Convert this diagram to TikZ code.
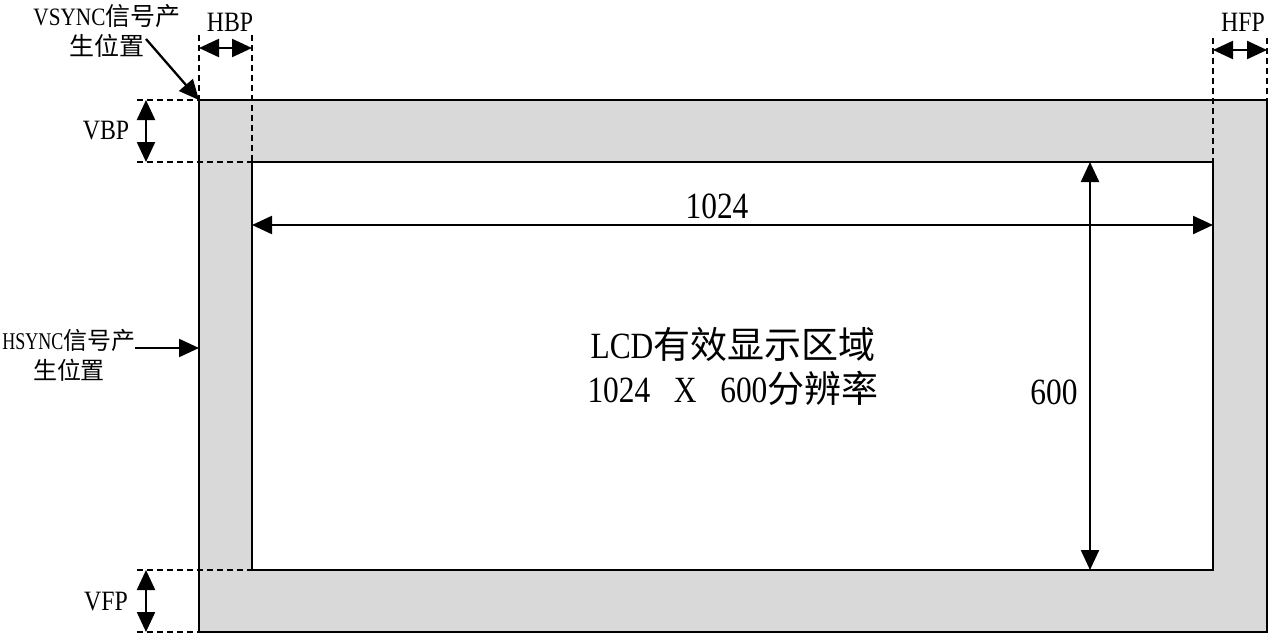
\documentclass[tikz,border=0pt]{standalone}
\usepackage{fontspec}
\setmainfont{Liberation Serif}[FakeStretch=0.85]
\newfontfamily\cjk{Noto Sans CJK SC}
\newfontfamily\narrowserif{Liberation Serif}[FakeStretch=0.75]
\usetikzlibrary{arrows.meta}
\definecolor{frame}{HTML}{D9D9D9}
\tikzset{
  solidline/.style={line width=2.3pt},
  dashline/.style={line width=1.9pt, dash pattern=on 6pt off 4pt},
  dimarrow/.style={line width=2.3pt, {Triangle[length=20pt,width=18pt]}-{Triangle[length=20pt,width=18pt]}},
  onearrow/.style={line width=2.3pt, -{Triangle[length=20pt,width=18pt]}},
  lbl/.style={inner sep=0pt, font=\fontsize{28}{30}\selectfont},
  biglbl/.style={inner sep=0pt, font=\fontsize{37}{44}\selectfont, align=center},
  sidelbl/.style={inner sep=0pt, font=\fontsize{25}{30}\selectfont, align=center}
}
\begin{document}
\begin{tikzpicture}[x=1pt,y=-1pt]
\useasboundingbox (0,0) rectangle (1270,637);
% corners
\coordinate (o1) at (199,100);
\coordinate (o2) at (1267,632);
\coordinate (i1) at (252,162);
\coordinate (i2) at (1213,570);
% frame
\fill[frame] (o1) rectangle (o2);
\fill[white] (i1) rectangle (i2);
\draw[solidline] (o1) rectangle (o2);
\draw[solidline] (i1) rectangle (i2);
% dashed guides
\draw[dashline] (199,35) -- (o1);
\draw[dashline] (252,35) -- (i1);
\draw[dashline] (1213,38) -- (1213,162);
\draw[dashline] (1267,38) -- (1267,100);
\draw[dashline] (137,100) -- (o1);
\draw[dashline] (137,162) -- (i1);
\draw[dashline] (137,570) -- (252,570);
\draw[dashline] (137,632) -- (199,632);
% dimension coordinates
\coordinate (hbpL) at (199,48);
\coordinate (hbpR) at (252,48);
\coordinate (hfpL) at (1213,50);
\coordinate (hfpR) at (1267,50);
\coordinate (vbpT) at (146,100);
\coordinate (vbpB) at (146,162);
\coordinate (vfpT) at (146,570);
\coordinate (vfpB) at (146,632);
\coordinate (wL) at (252,225);
\coordinate (wR) at (1213,225);
\coordinate (hT) at (1090,162);
\coordinate (hB) at (1090,570);
\draw[dimarrow] (hbpL) -- (hbpR);
\draw[dimarrow] (hfpL) -- (hfpR);
\draw[dimarrow] (vbpT) -- (vbpB);
\draw[dimarrow] (vfpT) -- (vfpB);
\draw[dimarrow] (wL) -- (wR);
\draw[dimarrow] (hT) -- (hB);
% labels
\node[lbl] (hbp) at (230,22) {HBP};
\node[lbl] (hfp) at (1243,22) {HFP};
\node[lbl] (vbp) at (106,131) {VBP};
\node[lbl] (vfp) at (106,602) {VFP};
\node[biglbl] (w) at (717,206) {1024};
\node[biglbl] (h) at (1054,392) {600};
\node[biglbl] (center) at (733,366) {LCD{\cjk 有效显示区域}\\1024\ \ \ X\ \ \ 600{\cjk 分辨率}};
\node[sidelbl] (vs) at (107,31) {VSYNC{\cjk 信号产}\\{\cjk 生位置}};
\node[sidelbl, font=\fontsize{24}{30}\selectfont] (hs) at (69,355) {{\narrowserif HSYNC}{\cjk 信号产}\\{\cjk 生位置}};
\coordinate (vsA) at (146,39);
\coordinate (hsA) at (135,348);
\draw[onearrow] (vsA) -- (o1);
\draw[onearrow] (hsA) -- (199,348);
\end{tikzpicture}
\end{document}
